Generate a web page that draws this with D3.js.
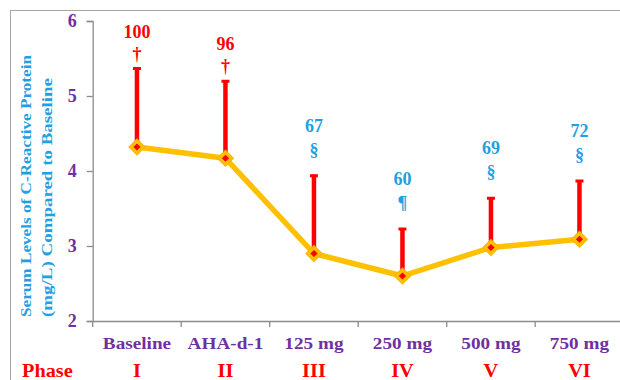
<!DOCTYPE html>
<html>
<head>
<meta charset="utf-8">
<script src="https://cdn.jsdelivr.net/npm/d3@7"></script>
<style>
  html, body { margin: 0; padding: 0; background: #fff; }
  svg { display: block; }
  text { font-family: "Liberation Serif", "Times New Roman", serif; font-weight: bold; }
</style>
</head>
<body>
<svg id="chart" width="620" height="380"></svg>
<script>
// Serum C-reactive protein (mg/L) by dosing phase
const categories = ["Baseline", "AHA-d-1", "125 mg", "250 mg", "500 mg", "750 mg"];
const phases = ["I", "II", "III", "IV", "V", "VI"];
const means = [4.32, 4.17, 2.90, 2.60, 2.98, 3.09];
const errors = [1.06, 1.04, 1.05, 0.64, 0.67, 0.79];
const percents = [100, 96, 67, 60, 69, 72];
const marks = ["\u2020", "\u2020", "\u00A7", "\u00B6", "\u00A7", "\u00A7"];
const yTicks = [2, 3, 4, 5, 6];

const purple = "#7030A0";
const red = "#FF0000";
const blue = "#1FA0E2";
const gold = "#FFC000";
const grey = "#8C8C8C";
const wide = "scale(1.13,1)";

const svg = d3.select("#chart");

// outer frame
svg.append("rect")
  .attr("x", 10.5).attr("y", 10.5)
  .attr("width", 640).attr("height", 400)
  .attr("fill", "none").attr("stroke", "#A6A6A6").attr("stroke-width", 1);

const x = d3.scaleBand().domain(categories).range([92.7, 623.7]).padding(0);
const y = d3.scaleLinear().domain([2, 6]).range([321, 21]);
const cx = c => x(c) + x.bandwidth() / 2;

// y axis
const yAxis = svg.append("g")
  .attr("transform", "translate(92.7,0)")
  .call(d3.axisLeft(y).tickValues(yTicks).tickSize(6).tickPadding(10).tickFormat(d3.format("d")));
yAxis.select(".domain").attr("stroke", grey).attr("stroke-width", 1.3);
yAxis.selectAll(".tick line").attr("stroke", grey).attr("stroke-width", 1.3);
yAxis.selectAll(".tick text")
  .attr("fill", purple).attr("font-size", 18)
  .attr("font-family", "Liberation Serif, serif").attr("font-weight", "bold");

// x axis line and category boundary ticks
const xAxis = svg.append("g")
  .attr("transform", "translate(0,321)")
  .call(d3.axisBottom(x).tickSize(0).tickPadding(16));
xAxis.select(".domain").attr("stroke", grey).attr("stroke-width", 1.3);
xAxis.selectAll(".tick text")
  .attr("fill", purple).attr("font-size", 17)
  .attr("font-family", "Liberation Serif, serif").attr("font-weight", "bold")
  .attr("transform", wide);

const bounds = categories.map(c => x(c)).concat([x.range()[1]]);
xAxis.selectAll(".bound").data(bounds).enter().append("line")
  .attr("class", "bound")
  .attr("x1", d => d).attr("x2", d => d)
  .attr("y1", 0).attr("y2", 6)
  .attr("stroke", grey).attr("stroke-width", 1.3);

// phase row
svg.append("g").attr("transform", "translate(22,377)")
  .append("text")
  .attr("transform", wide)
  .attr("fill", red).attr("font-size", 18)
  .text("Phase");
svg.selectAll(".phase").data(phases).enter().append("g")
  .attr("class", "phase")
  .attr("transform", (d, i) => `translate(${cx(categories[i])},377)`)
  .append("text")
  .attr("transform", wide)
  .attr("text-anchor", "middle")
  .attr("fill", red).attr("font-size", 18)
  .text(d => d);

// y axis title
const title = svg.append("text")
  .attr("transform", "translate(0,317) rotate(-90)")
  .attr("fill", blue).attr("font-size", 14.5);
title.append("tspan").attr("x", 0).attr("y", 31)
  .attr("textLength", 262).attr("lengthAdjust", "spacingAndGlyphs")
  .text("Serum Levels of C-Reactive  Protein");
title.append("tspan").attr("x", 0).attr("y", 52)
  .attr("textLength", 239).attr("lengthAdjust", "spacingAndGlyphs")
  .text("(mg/L)  Compared  to Baseline");

// error bars (upper only)
const bars = svg.append("g");
categories.forEach((c, i) => {
  const top = y(means[i] + errors[i]);
  bars.append("line")
    .attr("x1", cx(c)).attr("x2", cx(c))
    .attr("y1", y(means[i])).attr("y2", top)
    .attr("stroke", red).attr("stroke-width", 4.5);
  bars.append("line")
    .attr("x1", cx(c) - 4).attr("x2", cx(c) + 4)
    .attr("y1", top + 1).attr("y2", top + 1)
    .attr("stroke", red).attr("stroke-width", 3);
});

// mean line
const line = d3.line().x((d, i) => cx(categories[i])).y(d => y(d));
svg.append("path")
  .datum(means)
  .attr("d", line)
  .attr("fill", "none")
  .attr("stroke", gold).attr("stroke-width", 5.5)
  .attr("stroke-linejoin", "round");

// diamond markers
const outer = d3.symbol().type(d3.symbolSquare).size(130);
const inner = d3.symbol().type(d3.symbolSquare).size(26);
svg.selectAll(".mk").data(means).enter().append("path")
  .attr("class", "mk")
  .attr("transform", (d, i) => `translate(${cx(categories[i])},${y(d)}) rotate(45)`)
  .attr("d", outer())
  .attr("fill", gold).attr("stroke", "#F7B500").attr("stroke-width", 1);
svg.selectAll(".mi").data(means).enter().append("path")
  .attr("class", "mi")
  .attr("transform", (d, i) => `translate(${cx(categories[i])},${y(d)}) rotate(45)`)
  .attr("d", inner())
  .attr("fill", red);

// percent-of-baseline labels with significance marks
const labelColor = m => (m === "\u2020" ? red : blue);
const valueGap = m => (m === "\u2020" ? 36 : 49);
const markGap = m => (m === "\u2020" ? 14 : 25);
categories.forEach((c, i) => {
  const top = y(means[i] + errors[i]);
  svg.append("text")
    .attr("x", cx(c)).attr("y", top - valueGap(marks[i]))
    .attr("dominant-baseline", "central").attr("text-anchor", "middle")
    .attr("fill", labelColor(marks[i])).attr("font-size", 18)
    .text(percents[i]);
  svg.append("text")
    .attr("x", cx(c)).attr("y", top - markGap(marks[i]))
    .attr("dominant-baseline", "central").attr("text-anchor", "middle")
    .attr("fill", labelColor(marks[i])).attr("font-size", 18)
    .text(marks[i]);
});
</script>
</body>
</html>
